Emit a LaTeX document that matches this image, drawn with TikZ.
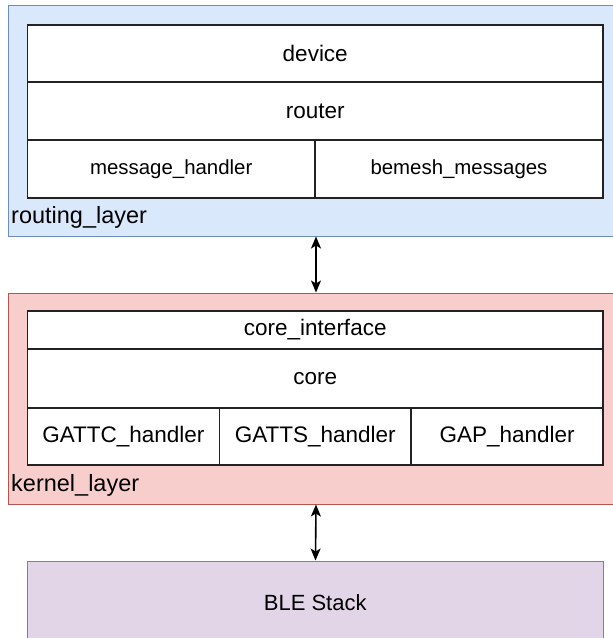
\documentclass[tikz,border=0pt]{standalone}
\usepackage{fontspec}
\setmainfont{Liberation Sans}
\usetikzlibrary{arrows.meta}
\definecolor{bluefill}{HTML}{DAE8FC}
\definecolor{bluedraw}{HTML}{6C8EBF}
\definecolor{redfill}{HTML}{F8CECC}
\definecolor{reddraw}{HTML}{B85450}
\definecolor{purfill}{HTML}{E1D5E7}
\definecolor{purdraw}{HTML}{9673A6}
\definecolor{cellline}{HTML}{222222}
\tikzset{
  layerbox/.style={rectangle, inner sep=0pt, line width=1pt},
  cell/.style={rectangle, draw=cellline, fill=white, line width=1.5pt, inner sep=0pt,
    font=\fontsize{22.5}{27}\selectfont},
  smallcell/.style={cell, font=\fontsize{20.4}{24}\selectfont},
  layerlabel/.style={anchor=west, inner sep=0pt, font=\fontsize{23.5}{28}\selectfont},
  biarrow/.style={{Stealth[length=12pt,width=10pt,inset=3pt]}-{Stealth[length=12pt,width=10pt,inset=3pt]}, line width=1.6pt, black}
}
\begin{document}
\begin{tikzpicture}[x=1pt,y=-1pt]
\useasboundingbox (0,0) rectangle (613,638);
% layers
\node[layerbox, draw=bluedraw, fill=bluefill, minimum width=615pt, minimum height=231pt] (routing) at (315.5,120.5) {};
\node[layerbox, draw=reddraw, fill=redfill, minimum width=615pt, minimum height=211pt] (kernel) at (315.5,398.5) {};
\node[layerbox, draw=purdraw, fill=purfill, minimum width=575.5pt, minimum height=84pt,
  font=\fontsize{22}{26}\selectfont] (ble) at (315.25,603) {BLE Stack};
% routing table
\node[cell, minimum width=575.5pt, minimum height=57pt] (device) at (315.25,53.5) {device};
\node[cell, minimum width=575.5pt, minimum height=58pt] (router) at (315.25,111) {router};
\node[smallcell, minimum width=287.5pt, minimum height=58pt] (msgh) at (171.25,169) {message\_handler};
\node[smallcell, minimum width=288pt, minimum height=58pt] (bemesh) at (459,169) {bemesh\_messages};
\node[layerlabel] (rlabel) at (11,217) {routing\_layer};
% kernel table
\node[cell, minimum width=575.5pt, minimum height=38pt] (coreif) at (315.25,330) {core\_interface};
\node[cell, minimum width=575.5pt, minimum height=59pt] (core) at (315.25,378.5) {core};
\node[cell, minimum width=191.8pt, minimum height=57pt] (gattc) at (123.4,436.5) {GATTC\_handler};
\node[cell, minimum width=191.9pt, minimum height=57pt] (gatts) at (315.25,436.5) {GATTS\_handler};
\node[cell, minimum width=191.8pt, minimum height=57pt] (gap) at (507.1,436.5) {GAP\_handler};
\node[layerlabel] (klabel) at (11,485) {kernel\_layer};
% arrows
\draw[biarrow] ([xshift=0.5pt]routing.south) -- ([xshift=0.5pt]kernel.north);
\draw[biarrow] ([xshift=0.5pt]kernel.south) -- (kernel.south |- ble.north);
\end{tikzpicture}
\end{document}
